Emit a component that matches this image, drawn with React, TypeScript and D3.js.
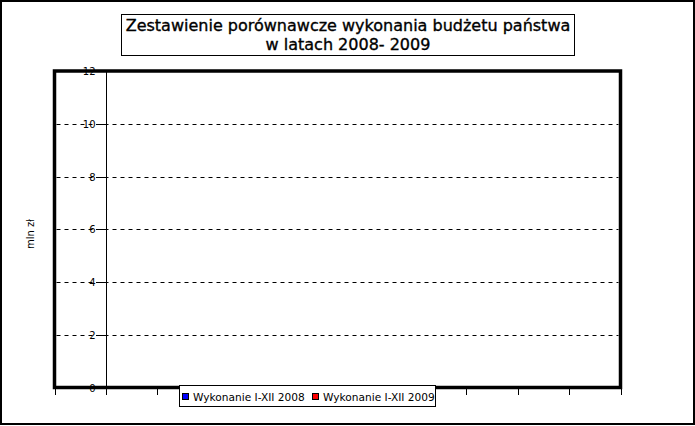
import React from "react";
import * as d3 from "d3";

// Budget items on the horizontal axis (one band each)
const categories: string[] = ["1", "2", "3", "4", "5", "6", "7", "8", "9", "10", "11"];
// Execution values, mln zł (no amounts reported)
const values2008: number[] = [0, 0, 0, 0, 0, 0, 0, 0, 0, 0, 0];
const values2009: number[] = [0, 0, 0, 0, 0, 0, 0, 0, 0, 0, 0];
const yTicks: number[] = [0, 2, 4, 6, 8, 10, 12];
const seriesNames: string[] = ["Wykonanie I-XII 2008", "Wykonanie I-XII 2009"];
const seriesColors: string[] = ["#0000ff", "#ff0000"];
const titleLines: string[] = ["Zestawienie porównawcze wykonania budżetu państwa", "w latach 2008- 2009"];
const yTitle = "mln zł";

const W = 695;
const H = 426;
const plot = { left: 54.5, right: 620.5, top: 71, bottom: 387.5 };
const axisX = 106;
const font = "DejaVu Sans, Verdana, sans-serif";

export default function App() {
  const x = d3.scaleBand<string>().domain(categories).range([plot.left, plot.right]);
  const inner = d3.scaleBand<number>().domain([0, 1]).range([0, x.bandwidth()]).paddingInner(0).paddingOuter(0.2);
  const y = d3.scaleLinear().domain([0, 12]).range([plot.bottom, plot.top]);
  const boundaries = [...categories.map((c) => x(c) as number), plot.right];
  const series = [values2008, values2009];

  return (
    <svg width={W} height={H} style={{ position: "absolute", left: 0, top: 0, background: "#fff" }} fontFamily={font}>
      <rect x={1} y={1} width={W - 2} height={H - 3} fill="#fff" stroke="#000" strokeWidth={2} />

      {/* title */}
      <rect x={121.5} y={14.5} width={453} height={41} fill="#fff" stroke="#000" strokeWidth={1} />
      {titleLines.map((t, i) => (
        <text key={i} x={348} y={31 + i * 18.5} textAnchor="middle" fontSize={16} fill="#000"
          stroke="#000" strokeWidth={0.35}>
          {t}
        </text>
      ))}

      {/* grid */}
      {yTicks.slice(1, -1).map((v) => (
        <line key={v} x1={plot.left + 2} x2={plot.right - 2} y1={Math.round(y(v)) + 0.5} y2={Math.round(y(v)) + 0.5}
          stroke="#000" strokeWidth={1} strokeDasharray="4,4" />
      ))}

      {/* bars */}
      {categories.map((c, i) =>
        series.map((s, k) => (
          <rect key={c + k} x={(x(c) as number) + (inner(k) as number)} width={inner.bandwidth()}
            y={y(s[i])} height={plot.bottom - y(s[i])} fill={seriesColors[k]} />
        ))
      )}

      {/* y axis */}
      <line x1={axisX + 0.5} x2={axisX + 0.5} y1={plot.top} y2={plot.bottom} stroke="#000" strokeWidth={1} />
      {yTicks.map((v) => (
        <g key={v}>
          <line x1={axisX - 10} x2={axisX} y1={Math.round(y(v)) + 0.5} y2={Math.round(y(v)) + 0.5} stroke="#000" strokeWidth={1} />
          <text x={95.5} y={y(v) + 4} textAnchor="end" fontSize={10} fill="#000">{v}</text>
        </g>
      ))}
      <text transform={`translate(34,${234}) rotate(-90)`} textAnchor="middle" fontSize={10} fill="#000">{yTitle}</text>

      {/* x ticks */}
      {boundaries.map((bx, i) => (
        <line key={i} x1={Math.round(bx) + 0.5} x2={Math.round(bx) + 0.5} y1={389} y2={395} stroke="#000" strokeWidth={1} />
      ))}

      {/* plot frame */}
      <rect x={plot.left} y={plot.top} width={plot.right - plot.left} height={plot.bottom - plot.top}
        fill="none" stroke="#000" strokeWidth={3.5} />

      {/* legend */}
      <rect x={179.5} y={385.5} width={256} height={21} fill="#fff" stroke="#000" strokeWidth={1} />
      {seriesNames.map((n, k) => {
        const lx = k === 0 ? 182.5 : 312.5;
        return (
          <g key={n}>
            <rect x={lx} y={393.5} width={6} height={6} fill={seriesColors[k]} stroke="#000" strokeWidth={1} />
            <text x={lx + 10.5} y={401} fontSize={10.6} fill="#000">{n}</text>
          </g>
        );
      })}
    </svg>
  );
}
